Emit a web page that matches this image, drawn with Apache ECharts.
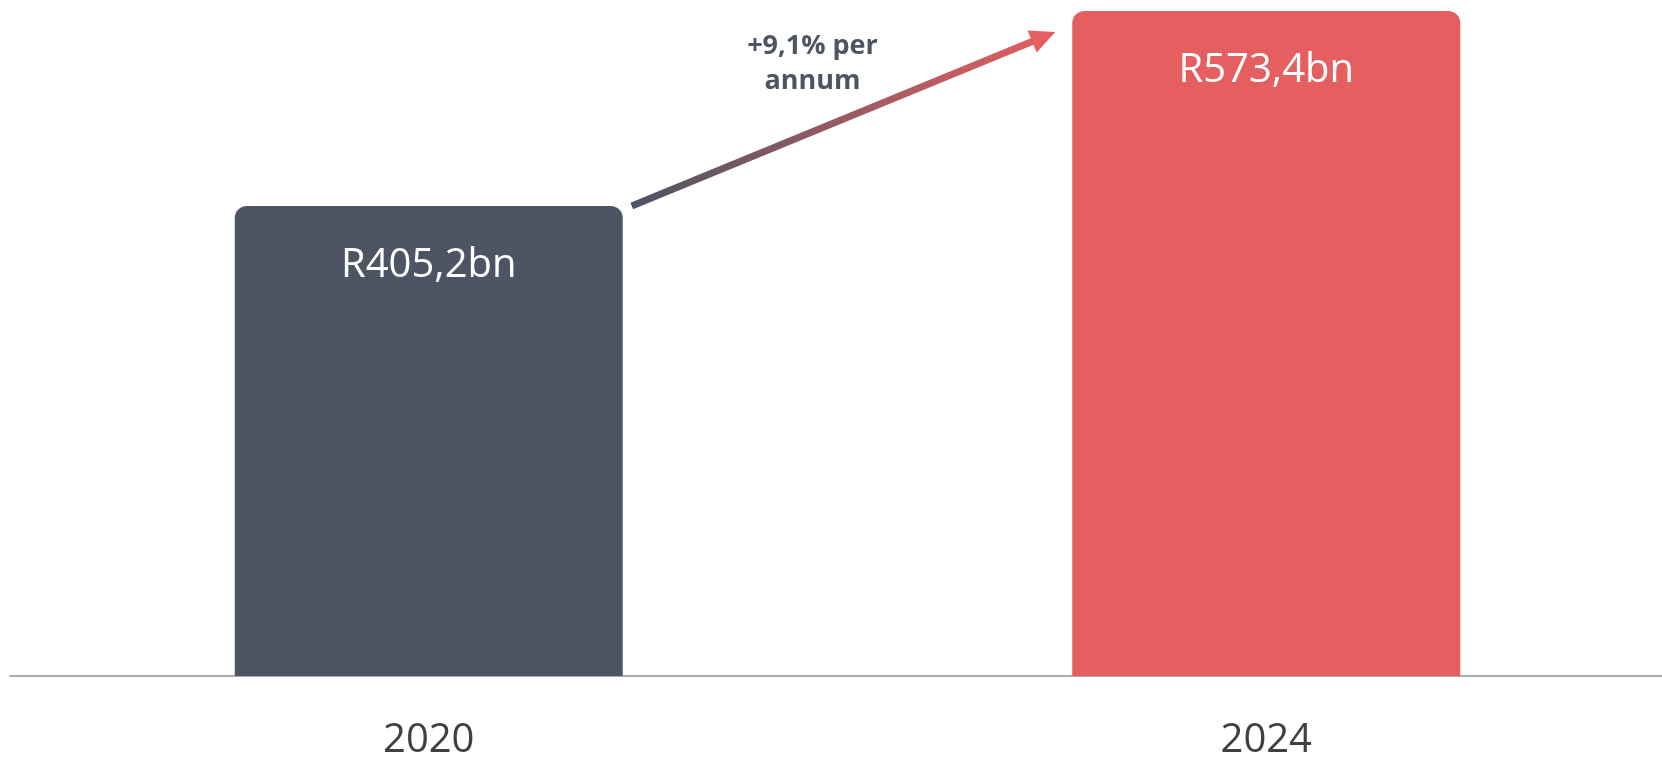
<!DOCTYPE html>
<html>
<head>
<meta charset="utf-8">
<script src="https://cdn.jsdelivr.net/npm/echarts@6/dist/echarts.min.js"></script>
<style>
html,body{margin:0;padding:0;background:#fff;}
#chart{width:1662px;height:757px;}
</style>
</head>
<body>
<div id="chart"></div>
<script>
// Data
const categories = ['2020', '2024'];
const values = [405.2, 573.4];
const growthText = ['+9,1% per', 'annum'];

// Styles
const barColors = ['#4d5564', '#e55f60'];
const FONT = '"Open Sans", "Noto Sans", sans-serif';

const chart = echarts.init(document.getElementById('chart'), null, {renderer: 'canvas'});

const fmt = v => 'R' + String(v).replace('.', ',') + 'bn';

const option = {
  animation: false,
  backgroundColor: '#ffffff',
  grid: {left: 10, right: -23, top: 11, bottom: 81, containLabel: false, outerBoundsMode: 'none'},
  xAxis: {
    type: 'category',
    data: categories,
    axisLine: {show: true, lineStyle: {color: '#ababab', width: 2}},
    axisTick: {show: false},
    axisLabel: {
      color: '#404040', fontSize: 40, fontFamily: FONT, margin: 45, lineHeight: 40
    },
    splitLine: {show: false}
  },
  yAxis: {
    type: 'value',
    min: 0,
    max: 573.4,
    show: false,
    splitLine: {show: false}
  },
  series: [{
    type: 'bar',
    barWidth: 388,
    data: values.map((v, i) => ({
      value: v,
      itemStyle: {color: barColors[i], borderRadius: [12, 12, 0, 0]}
    })),
    label: {
      show: true,
      position: 'insideTop',
      distance: 40,
      color: '#ffffff',
      fontSize: 40,
      lineHeight: 40,
      fontFamily: FONT,
      formatter: p => fmt(p.value)
    },
    z: 1
  }]
};

chart.setOption(option);

// Growth arrow anchored to the bars through the chart's scales
const half = 388 / 2;
const p1 = chart.convertToPixel({xAxisIndex: 0, yAxisIndex: 0}, [categories[0], values[0]]);
const p2 = chart.convertToPixel({xAxisIndex: 0, yAxisIndex: 0}, [categories[1], values[1]]);
const sx = p1[0] + half + 9, sy = p1[1] + 0;
const tx = p2[0] - half - 17, ty = p2[1] + 21;
const dx = tx - sx, dy = ty - sy;
const len = Math.sqrt(dx * dx + dy * dy);
const ux = dx / len, uy = dy / len;
const headLen = 25, headHalf = 12;
const bx = tx - ux * headLen, by = ty - uy * headLen;
const nx = -uy, ny = ux;

const grad = new echarts.graphic.LinearGradient(sx, sy, tx, ty, [
  {offset: 0, color: '#4d5564'},
  {offset: 1, color: '#e55f60'}
], true);

const mx = (sx + tx) / 2, my = (sy + ty) / 2;

chart.setOption({
  graphic: [
    {
      type: 'line',
      shape: {x1: sx, y1: sy, x2: bx + ux * 2, y2: by + uy * 2},
      style: {stroke: grad, lineWidth: 7, lineCap: 'butt'},
      z: 10
    },
    {
      type: 'polygon',
      shape: {points: [[tx, ty], [bx + nx * headHalf, by + ny * headHalf], [bx - nx * headHalf, by - ny * headHalf]]},
      style: {fill: '#e55f60'},
      z: 11
    },
    {
      type: 'text',
      x: mx - 31,
      y: my - 55,
      style: {
        text: growthText.join('\n'),
        fill: '#4d5564',
        font: 'bold 27px ' + FONT,
        textAlign: 'center',
        textVerticalAlign: 'middle',
        lineHeight: 35
      },
      z: 12
    }
  ]
});
</script>
</body>
</html>
